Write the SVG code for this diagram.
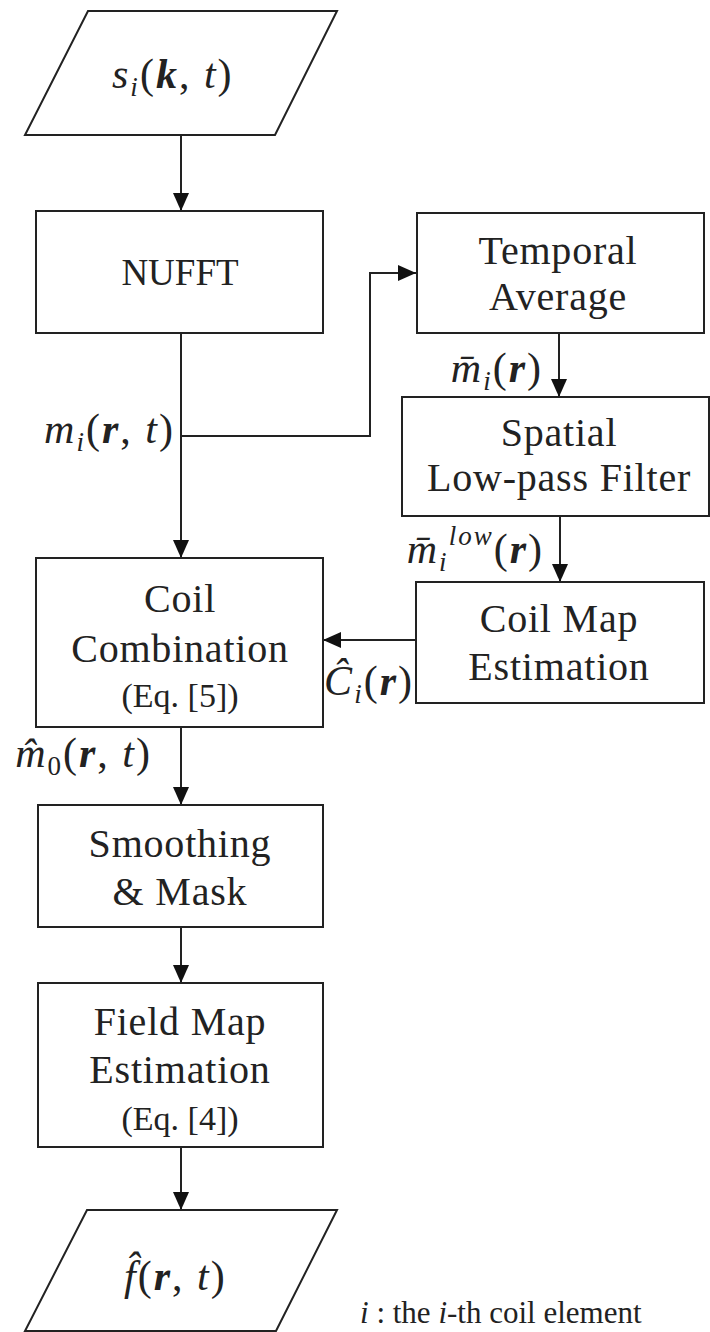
<svg xmlns="http://www.w3.org/2000/svg" width="710" height="1332" viewBox="0 0 710 1332">
<defs>
<marker id="ah" markerWidth="18" markerHeight="16" refX="18" refY="8" orient="auto" markerUnits="userSpaceOnUse">
<path d="M0,0 L18,8 L0,16 Z" fill="#111"/>
</marker>
<style>
.box{fill:#fff;stroke:#222;stroke-width:2}
.conn{fill:none;stroke:#222;stroke-width:2;marker-end:url(#ah)}
.t{font-family:"Liberation Serif",serif;font-size:40px;fill:#222;text-anchor:middle;letter-spacing:0.8px}
.caps{font-size:37px;letter-spacing:0}
.eq{font-size:34px;letter-spacing:0}
.m{font-family:"Liberation Serif",serif;font-size:42px;fill:#222;font-style:italic;letter-spacing:2px}
.end{text-anchor:end}
.up{font-style:normal}
.b{font-weight:bold}
.sub{font-size:27px}
.note{font-family:"Liberation Serif",serif;font-size:31px;fill:#222}
</style>
</defs>
<rect width="710" height="1332" fill="#fff"/>

<g id="connectors">
<path class="conn" d="M181,135 V211"/>
<path class="conn" d="M181,333 V558"/>
<path class="conn" d="M181,436 H370 V273 H416"/>
<path class="conn" d="M559,333 V397"/>
<path class="conn" d="M560,516 V582"/>
<path class="conn" d="M416,640 H323"/>
<path class="conn" d="M181,727 V805"/>
<path class="conn" d="M181,927 V983"/>
<path class="conn" d="M181,1147 V1210"/>
</g>

<g id="input">
<polygon class="box" points="88,11 337,11 275,135 25,135"/>
<text class="m" x="112" y="88">s<tspan class="sub" dy="8">i</tspan><tspan class="up" dy="-8">(</tspan><tspan class="b">k</tspan><tspan class="up">, </tspan>t<tspan class="up">)</tspan></text>
</g>

<g id="nufft">
<rect class="box" x="36" y="211" width="287" height="122"/>
<text class="t caps" x="180" y="285">NUFFT</text>
</g>

<g id="temporal">
<rect class="box" x="417" y="213" width="287" height="120"/>
<text class="t" x="558" y="264">Temporal</text>
<text class="t" x="558" y="310">Average</text>
</g>

<g id="spatial">
<rect class="box" x="402" y="397" width="307" height="119"/>
<text class="t" x="559" y="446">Spatial</text>
<text class="t" x="559" y="491">Low-pass Filter</text>
</g>

<g id="coilmap">
<rect class="box" x="416" y="582" width="288" height="121"/>
<text class="t" x="559" y="632">Coil Map</text>
<text class="t" x="559" y="680">Estimation</text>
</g>

<g id="coilcomb">
<rect class="box" x="36" y="558" width="287" height="169"/>
<text class="t" x="180" y="612">Coil</text>
<text class="t" x="180" y="662">Combination</text>
<text class="t eq" x="180" y="707">(Eq. [5])</text>
</g>

<g id="smoothing">
<rect class="box" x="38" y="805" width="285" height="122"/>
<text class="t" x="180" y="857">Smoothing</text>
<text class="t" x="180" y="905">&amp; Mask</text>
</g>

<g id="fieldmap">
<rect class="box" x="38" y="983" width="285" height="164"/>
<text class="t" x="180" y="1035">Field Map</text>
<text class="t" x="180" y="1083">Estimation</text>
<text class="t eq" x="180" y="1130">(Eq. [4])</text>
</g>

<g id="output">
<polygon class="box" points="87,1210 337,1210 276,1331 25,1331"/>
<text class="m" x="124" y="1290">f̂<tspan class="up">(</tspan><tspan class="b">r</tspan><tspan class="up">, </tspan>t<tspan class="up">)</tspan></text>
</g>

<g id="labels">
<text class="m end" x="175" y="443">m<tspan class="sub" dy="8">i</tspan><tspan class="up" dy="-8">(</tspan><tspan class="b">r</tspan><tspan class="up">, </tspan>t<tspan class="up">)</tspan></text>
<text class="m end" x="543" y="382">m̄<tspan class="sub" dy="8">i</tspan><tspan class="up" dy="-8">(</tspan><tspan class="b">r</tspan><tspan class="up">)</tspan></text>
<text class="m end" x="544" y="563">m̄<tspan class="sub" dy="8">i</tspan><tspan class="sub" dy="-26">low</tspan><tspan class="up" dy="18">(</tspan><tspan class="b">r</tspan><tspan class="up">)</tspan></text>
<text class="m end" x="414" y="695">Ĉ<tspan class="sub" dy="8">i</tspan><tspan class="up" dy="-8">(</tspan><tspan class="b">r</tspan><tspan class="up">)</tspan></text>
<text class="m end" x="152" y="767">m̂<tspan class="sub up" dy="8">0</tspan><tspan class="up" dy="-8">(</tspan><tspan class="b">r</tspan><tspan class="up">, </tspan>t<tspan class="up">)</tspan></text>
<text class="note" x="360" y="1323"><tspan font-style="italic">i</tspan> : the <tspan font-style="italic">i</tspan>-th coil element</text>
</g>
</svg>
